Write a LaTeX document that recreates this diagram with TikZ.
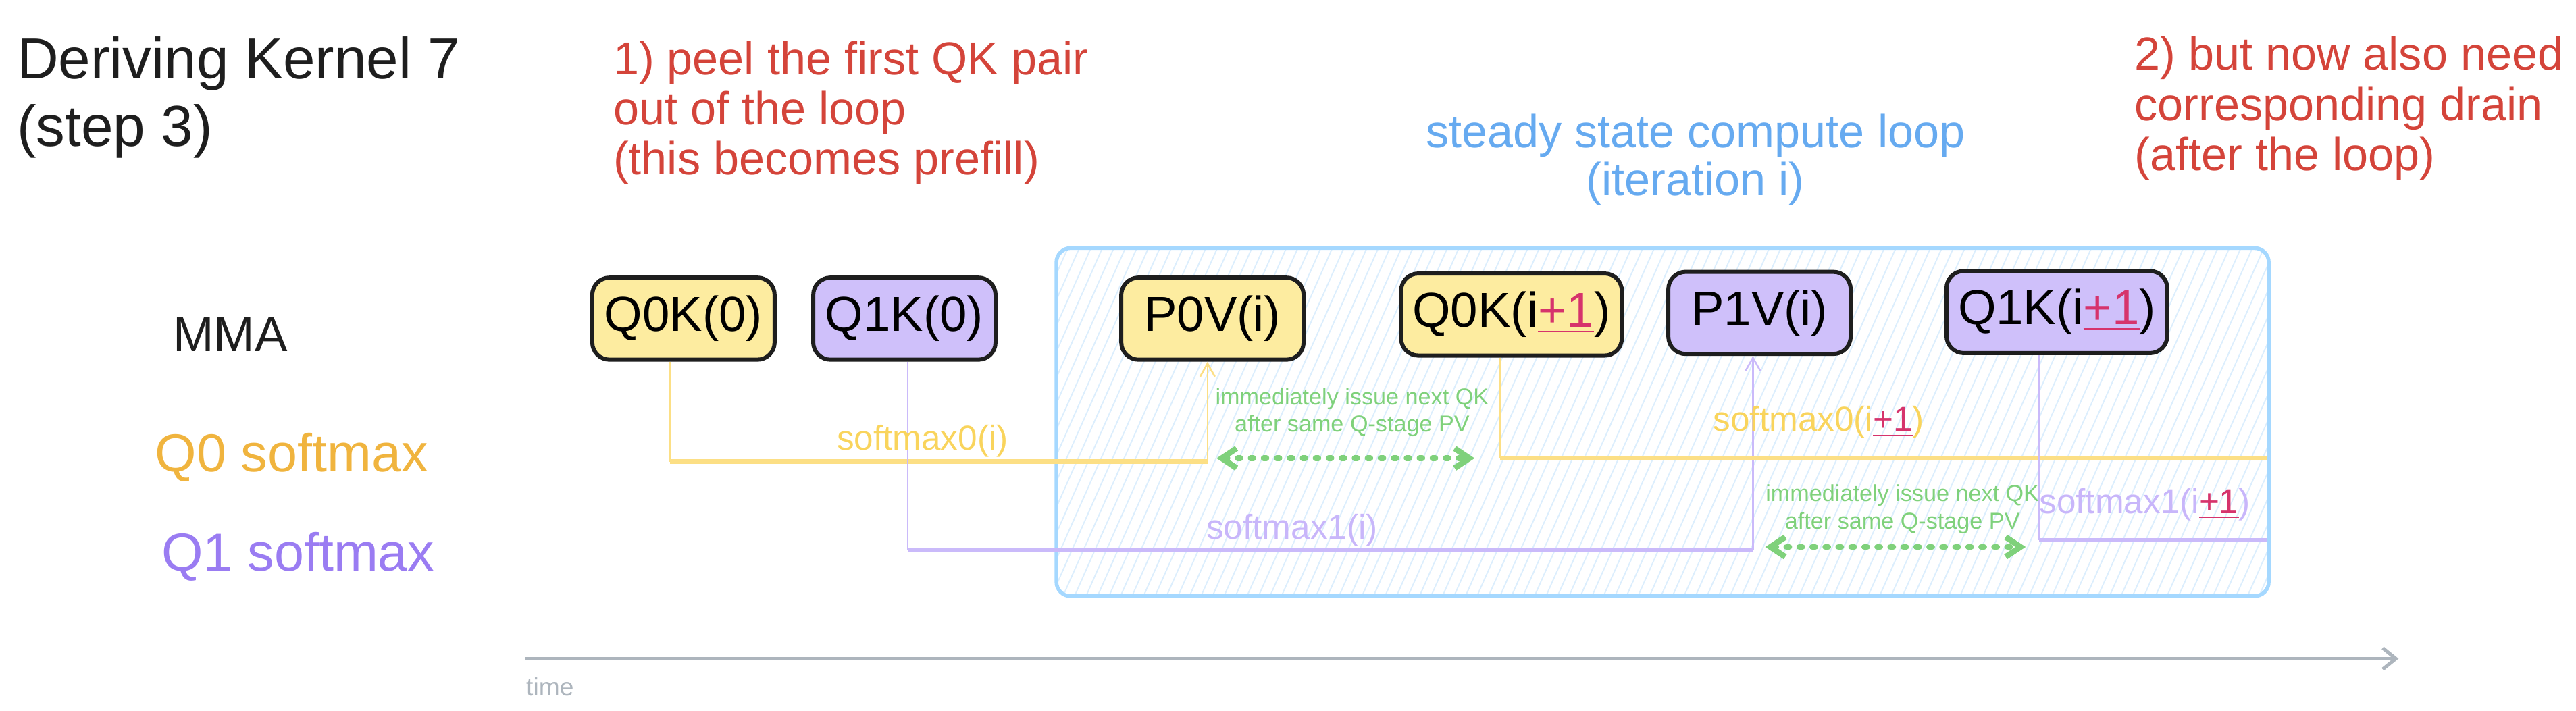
\documentclass[tikz,border=0pt]{standalone}
\usepackage{fontspec}
\setmainfont{Liberation Sans}
\usetikzlibrary{arrows.meta}
\definecolor{inkc}{HTML}{1E1E1E}
\definecolor{redc}{HTML}{D4443A}
\definecolor{bluec}{HTML}{66AAF0}
\definecolor{loopc}{HTML}{A5D8FF}
\definecolor{hatchc}{HTML}{DCEEFD}
\definecolor{q0fill}{HTML}{FDECA0}
\definecolor{q1fill}{HTML}{CFC0FA}
\definecolor{q0c}{HTML}{F0B43E}
\definecolor{q0line}{HTML}{FCDF85}
\definecolor{q0text}{HTML}{F9D45C}
\definecolor{q1c}{HTML}{9A7CF2}
\definecolor{q1line}{HTML}{CABAFA}
\definecolor{q1text}{HTML}{C8B6FA}
\definecolor{greenc}{HTML}{7FD17B}
\definecolor{pinkc}{HTML}{D6336C}
\definecolor{grayc}{HTML}{ADB5BD}
\newcommand{\plusone}{\textcolor{pinkc}{\underline{+1}}}

\begin{document}
\begin{tikzpicture}[x=0.02cm,y=-0.02cm,
op/.style={draw=inkc,line width=1.4pt,rounded corners=6pt,minimum width=2.22cm,minimum height=1cm,inner xsep=4pt,font=\fontsize{17}{20}\selectfont},
q0op/.style={op,fill=q0fill},
q1op/.style={op,fill=q1fill},
wire/.style={line width=0.6pt},
lane/.style={line width=1.5pt},
barb/.style={-{Straight Barb[length=1.6mm,width=1.8mm]}},
gap/.style={greenc,line width=2pt,line cap=round,dash pattern=on 1pt off 3.5pt,{Straight Barb[length=1.8mm,width=2.4mm]}-{Straight Barb[length=1.8mm,width=2.4mm]}},
note/.style={greenc,align=center,font=\fontsize{8}{9.5}\selectfont},
smlabel/.style={font=\fontsize{12}{14}\selectfont}]
\useasboundingbox (0,0) rectangle (1568,432.5);

% titles
\node[anchor=north west,align=left,inner sep=0pt,text=inkc,font=\fontsize{20}{23.5}\selectfont] (title) at (10,22) {Deriving Kernel 7\\(step 3)};
\node[anchor=north west,align=left,inner sep=0pt,text=redc,font=\fontsize{16}{17.4}\selectfont] (peel) at (373,24.5) {1) peel the first QK pair\\out of the loop\\(this becomes prefill)};
\node[anchor=north west,align=left,inner sep=0pt,text=redc,font=\fontsize{16}{17.4}\selectfont] (drain) at (1299,22) {2) but now also need\\corresponding drain\\(after the loop)};
\node[anchor=north,align=center,inner sep=0pt,text=bluec,font=\fontsize{16}{16.7}\selectfont] (looplabel) at (1032,69) {steady state compute loop\\(iteration i)};

% steady state loop
\begin{scope}
\clip[rounded corners=5pt] (643,151) rectangle (1381,363);
\foreach\x in {549,556,...,1381}
\draw[hatchc,line width=0.45pt] (\x,363) -- (\x+94,151);
\end{scope}
\draw[loopc,line width=1.3pt,rounded corners=5pt] (643,151) rectangle (1381,363);

% lanes
\node[anchor=base west,inner sep=0pt,text=inkc,font=\fontsize{17}{20}\selectfont] (mma) at (105,214) {MMA};
\node[anchor=base west,inner sep=0pt,text=q0c,font=\fontsize{18.5}{22}\selectfont] (q0lane) at (94,287) {Q0 softmax};
\node[anchor=base west,inner sep=0pt,text=q1c,font=\fontsize{18.5}{22}\selectfont] (q1lane) at (98,347.5) {Q1 softmax};

% corners of the softmax wires
\coordinate (a0) at (408,281);
\coordinate (a1) at (735,281);
\coordinate (b0) at (552.6,334.7);
\coordinate (b1) at (1067,334.7);
\coordinate (c0) at (913,279);
\coordinate (c1) at (1380,279);
\coordinate (d0) at (1241,329);
\coordinate (d1) at (1380,329);

% mma ops
\node[q0op] (q0k0) at (416,194) {Q0K(0)};
\node[q1op] (q1k0) at (550.5,194) {Q1K(0)};
\node[q0op] (p0v) at (738,194) {P0V(i)};
\node[q0op] (q0k1) at (920,191.5) {Q0K(i\plusone)};
\node[q1op] (p1v) at (1071,190.5) {P1V(i)};
\node[q1op] (q1k1) at (1252,190) {Q1K(i\plusone)};

% softmax wires
\draw[q0line,wire] (q0k0.south -| a0) -- (a0);
\draw[q0line,lane] (a0) -- (a1);
\draw[q0line,wire,barb] (a1) -- (p0v.south -| a1);
\draw[q1line,wire] (q1k0.south -| b0) -- (b0);
\draw[q1line,lane] (b0) -- (b1);
\draw[q1line,wire,barb] (b1) -- (p1v.south -| b1);
\draw[q0line,wire] (q0k1.south -| c0) -- (c0);
\draw[q0line,lane] (c0) -- (c1);
\draw[q1line,wire] (q1k1.south -| d0) -- (d0);
\draw[q1line,lane] (d0) -- (d1);

\node[smlabel,text=q0text] (sm0a) at (561.5,268.5) {softmax0(i)};
\node[smlabel,text=q1text] (sm1a) at (786.5,323) {softmax1(i)};
\node[smlabel,text=q0text] (sm0b) at (1107,257) {softmax0(i\plusone)};
\node[smlabel,text=q1text] (sm1b) at (1305.5,307) {softmax1(i\plusone)};

% issue gaps
\coordinate (g0) at (740.5,279);
\coordinate (g1) at (897.6,279);
\draw[gap] (g0) -- (g1);
\node[note] (gn0) at (823,251) {immediately issue next QK\\after same Q-stage PV};
\coordinate (h0) at (1074.5,333);
\coordinate (h1) at (1233,333);
\draw[gap] (h0) -- (h1);
\node[note] (gn1) at (1158,310) {immediately issue next QK\\after same Q-stage PV};

% time
\coordinate (t0) at (320,401);
\coordinate (t1) at (1460,401);
\draw[grayc,line width=1.2pt,-{Straight Barb[length=1.6mm,width=2.6mm]}] (t0) -- (t1);
\node[anchor=west,inner sep=0pt,text=grayc,font=\fontsize{8.7}{10}\selectfont] (time) at (320,418) {time};
\end{tikzpicture}
\end{document}
